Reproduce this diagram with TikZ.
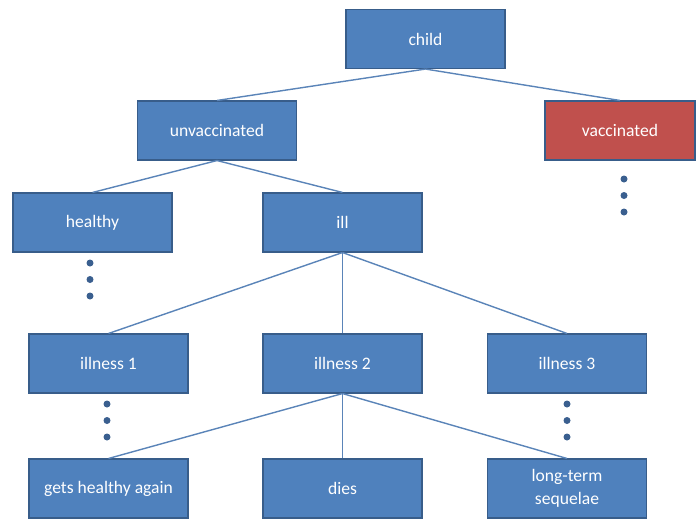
\documentclass[tikz,border=0pt]{standalone}
\usepackage{fontspec}
\setmainfont{Carlito}
\definecolor{boxblue}{HTML}{4F81BD}
\definecolor{boxedge}{HTML}{385D8A}
\definecolor{boxred}{HTML}{C0504D}
\definecolor{linkblue}{HTML}{5A84B8}
\definecolor{dotblue}{HTML}{3A5F8F}

\begin{document}
\begin{tikzpicture}[x=0.03cm,y=-0.03cm,
	box/.style={shape=rectangle,draw=boxedge,fill=boxblue,line width=0.9pt,text=white,
		minimum width=4.77cm,minimum height=1.77cm,inner sep=0pt,align=center,
		font=\fontsize{15}{19.5}\selectfont},
	link/.style={-,draw=linkblue,line width=1.2pt}]
	
	\useasboundingbox (0,0) rectangle (696,519);
	
	\node[box] (child) at (425.5, 39) {child};
	\node[box] (unvac) at (217, 130.5) {unvaccinated};
	\node[box,fill=boxred,minimum width=4.5cm] (vac) at (620, 130.5) {vaccinated};
	\node[box] (healthy) at (92.5, 222.5) {healthy};
	\node[box] (ill) at (342.5, 222.5) {ill};
	\node[box] (illA) at (108.5, 363.5) {illness 1};
	\node[box] (illB) at (342.5, 363.5) {illness 2};
	\node[box] (illC) at (567, 363.5) {illness 3};
	\node[box] (recover) at (108.5, 488.5) {gets healthy again};
	\node[box] (dies) at (342.5, 488.5) {dies};
	\node[box] (sequelae) at (567, 488.5) {long-term\\sequelae};
	
	\path[link] (child.south) edge (unvac.north);
	\path[link] (child.south) edge (vac.north);
	\path[link] (unvac.south) edge (healthy.north);
	\path[link] (unvac.south) edge (ill.north);
	\path[link] (ill.south) edge (illA.north);
	\path[link] (ill.south) edge (illB.north);
	\path[link] (ill.south) edge (illC.north);
	\path[link] (illB.south) edge (recover.north);
	\path[link] (illB.south) edge (dies.north);
	\path[link] (illB.south) edge (sequelae.north);
	
	% dots for the branches that are not shown
	\foreach \x/\y in {624/179, 90/263, 107/404, 567/404}
		\foreach \d in {0, 16.5, 33}
			\fill[dotblue] (\x, \y+\d) circle (3.5);
	
\end{tikzpicture}
\end{document}
